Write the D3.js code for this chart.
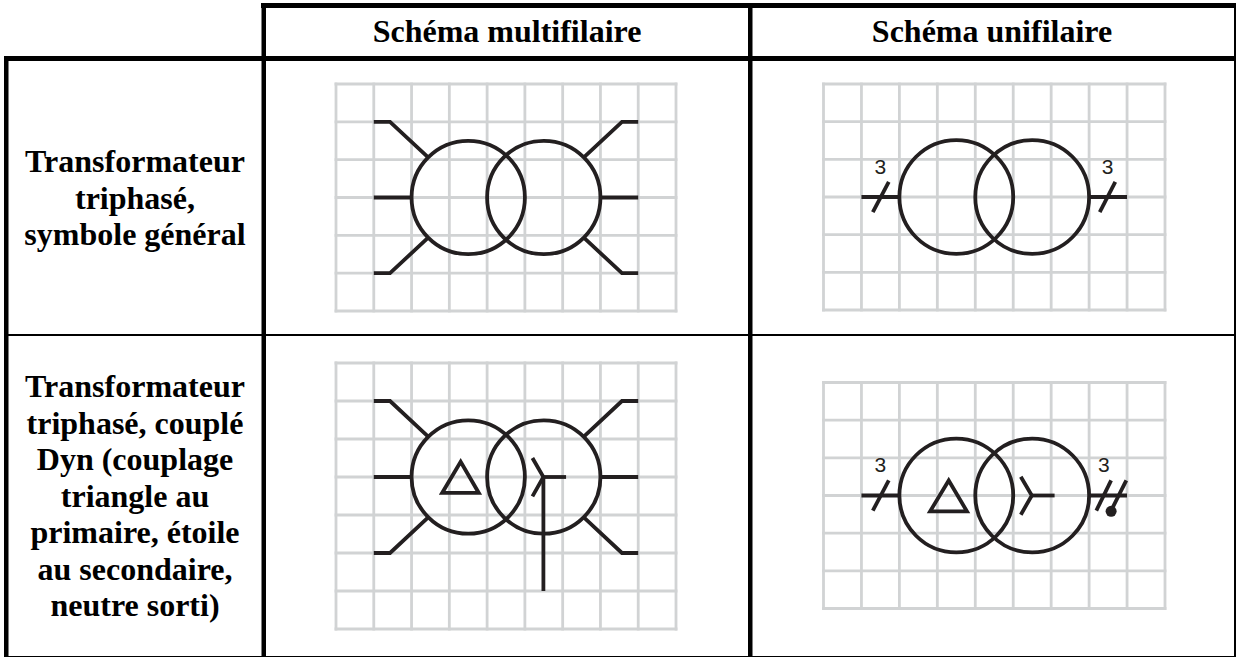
<!DOCTYPE html>
<html>
<head>
<meta charset="utf-8">
<script src="https://cdn.jsdelivr.net/npm/d3@7"></script>
<style>
	html, body { margin: 0; padding: 0; background: #fff; overflow: hidden; }
	svg { display: block; }
</style>
</head>
<body>
<svg id="chart" width="1236" height="657"></svg>
<script>
//Table text
var columnHeaders = ["Schéma multifilaire", "Schéma unifilaire"];
var rowLabels1 = ["Transformateur", "triphasé,", "symbole général"];
var rowLabels2 = ["Transformateur", "triphasé, couplé", "Dyn (couplage", "triangle au", "primaire, étoile", "au secondaire,", "neutre sorti)"];
var wireCount = "3";

//Symbols, all read in grid squares
var circleCentres = [[3.5, 3], [5.5, 3]];
var circleRadius = 1.5;
var threeWires = [
	[[1, 1], [1.43, 1], [2.44, 1.94]],
	[[1, 3], [2, 3]],
	[[1, 5], [1.43, 5], [2.44, 4.06]],
	[[8, 1], [7.57, 1], [6.56, 1.94]],
	[[7, 3], [8, 3]],
	[[8, 5], [7.57, 5], [6.56, 4.06]]
];
var singleWires = [
	[[1, 3], [2, 3]],
	[[7, 3], [8, 3]]
];
var slashLeft = [[1.72, 2.6], [1.3, 3.4]];
var slashRight = [[7.69, 2.6], [7.28, 3.4]];
var slashNeutral1 = [[7.58, 2.6], [7.19, 3.4]];
var slashNeutral2 = [[7.98, 2.6], [7.58, 3.4]];
var neutralDot = [7.58, 3.42];
var triangle = [[2.81, 3.42], [3.78, 3.42], [3.3, 2.6]];
var star = [[[5.2, 2.5], [5.49, 3], [5.2, 3.51]], [[5.49, 3], [6.09, 3]]];
var neutralWire = [[5.49, 3], [5.49, 6]];

var ink = "#231f20";
var svg = d3.select("#chart");

drawTable();
drawLabels();

var p1 = panel(336, 676, 84, 311, 9, 6);
drawGeneral(p1, threeWires);

var p2 = panel(823.5, 1165, 84, 310, 9, 6);
drawGeneral(p2, singleWires);
drawPath(p2, slashLeft);
drawPath(p2, slashRight);
drawCount(p2, 1.5);
drawCount(p2, 7.49);

var p3 = panel(336, 676, 363, 629, 9, 7);
drawGeneral(p3, threeWires);
drawCoupling(p3);
drawPath(p3, neutralWire);

var p4 = panel(823.5, 1165, 382.5, 608.5, 9, 6);
drawGeneral(p4, singleWires);
drawCoupling(p4);
drawPath(p4, slashLeft);
drawPath(p4, slashNeutral1);
drawPath(p4, slashNeutral2);
drawCount(p4, 1.5);
drawCount(p4, 7.39);
p4.g.append("circle")
	.attr("cx", p4.x(neutralDot[0]))
	.attr("cy", p4.y(neutralDot[1]))
	.attr("r", 5.5)
	.attr("fill", ink);

function drawTable() {
	let rules = [
		[261, 3, 975, 5],
		[4, 56, 1232, 5],
		[4, 334, 1232, 2],
		[4, 656, 1232, 1],
		[4, 56, 4.5, 601],
		[261.5, 3, 4.5, 654],
		[748, 3, 4.5, 654],
		[1234, 3, 2, 654]
	];
	svg.append("g").selectAll("rect")
		.data(rules)
		.enter().append("rect")
		.attr("x", function(d) { return d[0]; })
		.attr("y", function(d) { return d[1]; })
		.attr("width", function(d) { return d[2]; })
		.attr("height", function(d) { return d[3]; })
		.attr("fill", "#000");
};

function drawLabels() {
	let font = "'Liberation Serif', serif";
	let headerX = d3.scaleOrdinal().domain(columnHeaders).range([507, 992]);

	svg.append("g").selectAll("text")
		.data(columnHeaders)
		.enter().append("text")
		.attr("x", function(d) { return headerX(d); })
		.attr("y", 42)
		.attr("text-anchor", "middle")
		.attr("font-family", font)
		.attr("font-weight", "bold")
		.attr("font-size", 32)
		.text(function(d) { return d; });

	[[rowLabels1, 172], [rowLabels2, 397.3]].forEach(function(block) {
		svg.append("g").selectAll("text")
			.data(block[0])
			.enter().append("text")
			.attr("x", 135)
			.attr("y", function(d, i) { return block[1] + i * 36.5; })
			.attr("text-anchor", "middle")
			.attr("font-family", font)
			.attr("font-weight", "bold")
			.attr("font-size", 32)
			.text(function(d) { return d; });
	});
};

//One grey squared background with its own scales
function panel(left, right, top, bottom, cols, rows) {
	let x = d3.scaleLinear().domain([0, cols]).range([left, right]);
	let y = d3.scaleLinear().domain([0, rows]).range([top, bottom]);
	let g = svg.append("g");

	g.append("g").selectAll("line")
		.data(d3.range(cols + 1))
		.enter().append("line")
		.attr("x1", function(d) { return x(d); })
		.attr("x2", function(d) { return x(d); })
		.attr("y1", top)
		.attr("y2", bottom);
	g.append("g").selectAll("line")
		.data(d3.range(rows + 1))
		.enter().append("line")
		.attr("x1", left)
		.attr("x2", right)
		.attr("y1", function(d) { return y(d); })
		.attr("y2", function(d) { return y(d); });
	g.selectAll("line")
		.attr("stroke", "#d1d3d4")
		.attr("stroke-width", 2.8)
		.attr("stroke-linecap", "square");

	return { x: x, y: y, g: g };
};

function drawPath(p, points, closed) {
	let line = d3.line()
		.x(function(d) { return p.x(d[0]); })
		.y(function(d) { return p.y(d[1]); })
		.curve(closed ? d3.curveLinearClosed : d3.curveLinear);
	p.g.append("path")
		.attr("d", line(points))
		.attr("fill", "none")
		.attr("stroke", ink)
		.attr("stroke-width", 3.8);
};

function drawGeneral(p, wires) {
	wires.forEach(function(w) { drawPath(p, w); });
	p.g.append("g").selectAll("circle")
		.data(circleCentres)
		.enter().append("circle")
		.attr("cx", function(d) { return p.x(d[0]); })
		.attr("cy", function(d) { return p.y(d[1]); })
		.attr("r", p.x(circleRadius) - p.x(0))
		.attr("fill", "none")
		.attr("stroke", ink)
		.attr("stroke-width", 3.8);
};

function drawCoupling(p) {
	drawPath(p, triangle, true);
	star.forEach(function(s) { drawPath(p, s); });
};

function drawCount(p, at) {
	p.g.append("text")
		.attr("x", p.x(at))
		.attr("y", p.y(3) - 23.5)
		.attr("text-anchor", "middle")
		.attr("font-family", "'Liberation Sans', sans-serif")
		.attr("font-size", 21)
		.attr("fill", ink)
		.text(wireCount);
};
</script>
</body>
</html>
